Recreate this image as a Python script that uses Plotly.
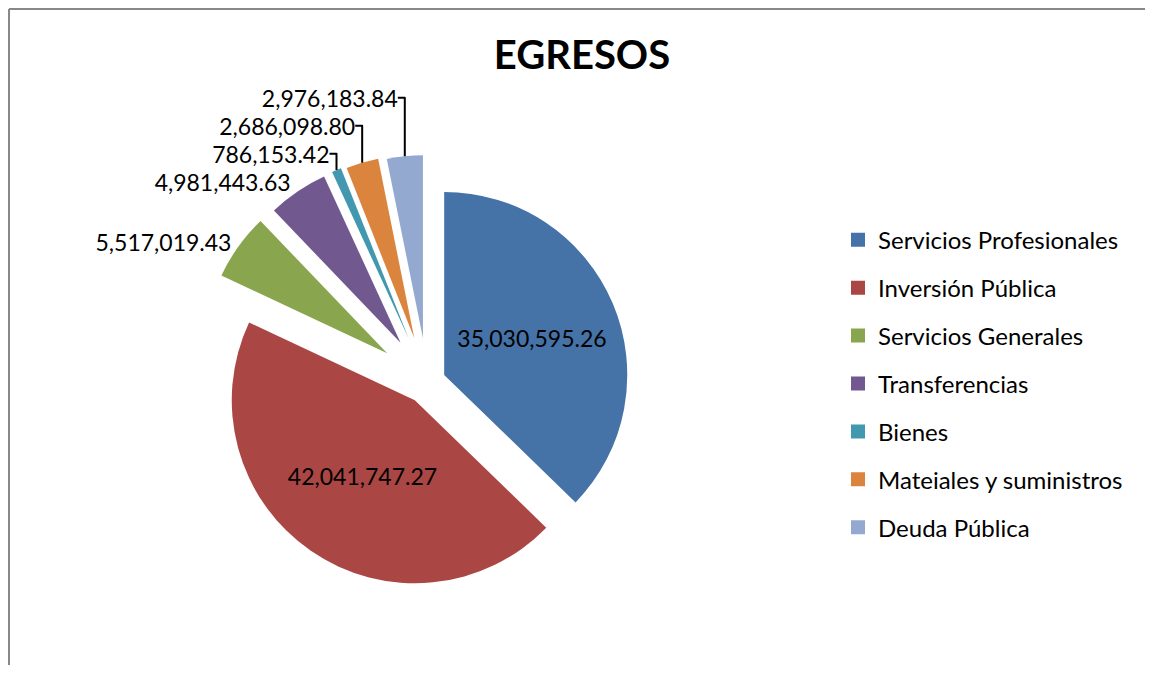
import plotly.graph_objects as go

# Egresos por rubro
labels = [
    'Servicios Profesionales',
    'Inversión Pública',
    'Servicios Generales',
    'Transferencias',
    'Bienes',
    'Mateiales y suministros',
    'Deuda Pública',
]
values = [35030595.26, 42041747.27, 5517019.43, 4981443.63, 786153.42, 2686098.80, 2976183.84]
colors = ['#4572A7', '#AA4643', '#89A54E', '#71588F', '#4198AF', '#DB843D', '#93A9CF']
pulls = [0.10, 0.12, 0.27, 0.26, 0.26, 0.25, 0.24]
positions = ['inside', 'inside', 'outside', 'outside', 'outside', 'outside', 'outside']

FONT = 'Lato'
# page body keeps its 8px margin, so the figure is a bit smaller than the window
W, H = 1137, 657

fig = go.Figure()

pie = go.Pie(
    labels=labels, values=values, sort=False, direction='clockwise', rotation=0,
    pull=pulls, textposition=positions, texttemplate='%{value:,.2f}',
    insidetextorientation='horizontal',
    marker={'colors': colors, 'line': {'width': 0}},
    textfont={'family': FONT, 'size': 23, 'color': 'black'},
    domain={'x': [0.1577, 0.5799], 'y': [0.0767, 0.7845]},
    showlegend=False,
)
fig.add_trace(pie)

# legend entries (one trace per slice so the rows can be spaced out)
for label, color in zip(labels, colors):
    fig.add_trace(go.Scatter(
        x=[None], y=[None], mode='markers', name=label, legendgroup=label,
        marker={'symbol': 'square', 'size': 14, 'color': color},
    ))

# chart frame: only the top and left edges are inside the picture
frame = {'color': '#888888', 'width': 2}
fig.update_layout(
    width=W, height=H, autosize=False,
    margin={'l': 0, 'r': 0, 't': 0, 'b': 0, 'pad': 0, 'autoexpand': False},
    paper_bgcolor='white', plot_bgcolor='white',
    title={'text': '<b>EGRESOS</b>', 'x': 0.5048, 'y': 0.9285, 'xanchor': 'center', 'yanchor': 'middle',
           'font': {'family': FONT, 'size': 40, 'color': 'black'}},
    xaxis={'visible': False}, yaxis={'visible': False},
    legend={'x': 0.730, 'y': 0.6808, 'xanchor': 'left', 'yanchor': 'top',
            'font': {'family': FONT, 'size': 24, 'color': 'black'},
            'tracegroupgap': 13.7, 'bgcolor': 'rgba(0,0,0,0)'},
    shapes=[
        {'type': 'line', 'xref': 'paper', 'yref': 'paper',
         'x0': 1 / W, 'x1': 1.0, 'y0': 1 - 1 / H, 'y1': 1 - 1 / H, 'line': frame},
        {'type': 'line', 'xref': 'paper', 'yref': 'paper',
         'x0': 1 / W, 'x1': 1 / W, 'y0': 0.0, 'y1': 1 - 1 / H, 'line': frame},
    ],
)

fig.write_html('out.html')
